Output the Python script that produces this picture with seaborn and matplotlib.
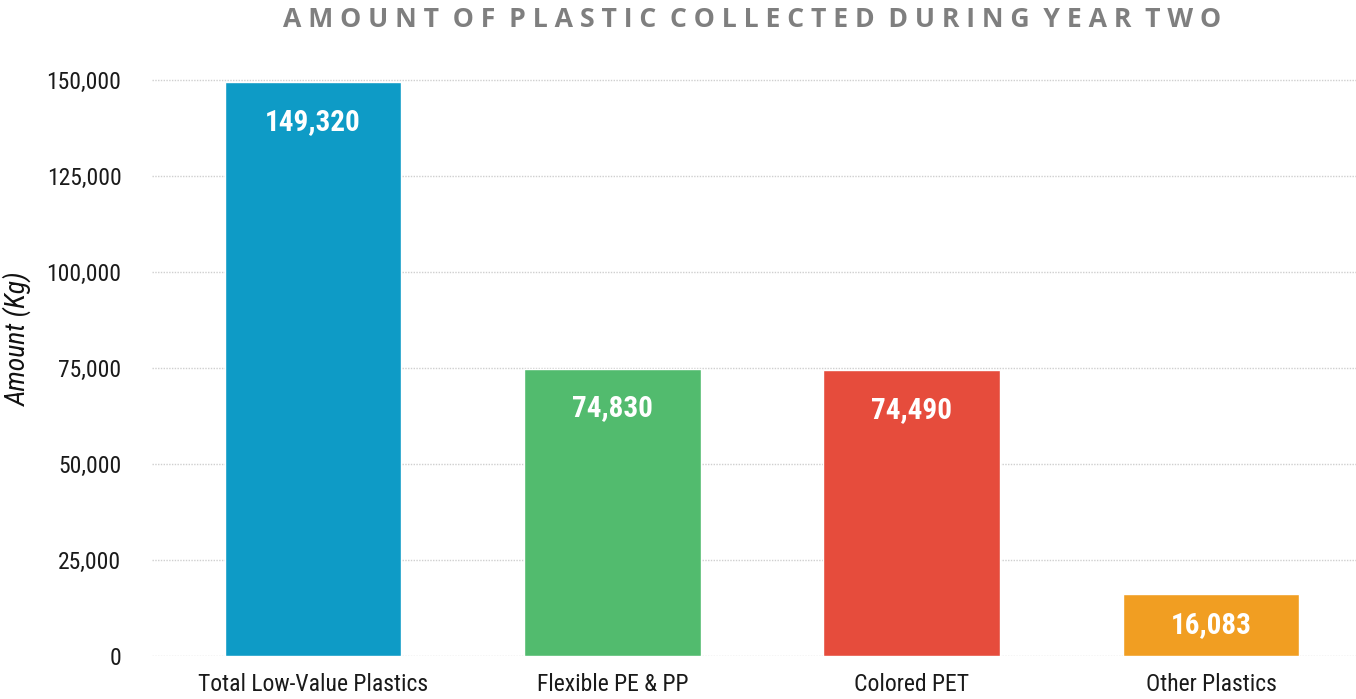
import matplotlib
matplotlib.use("Agg")
import matplotlib.pyplot as plt
import matplotlib.ticker as mticker
import seaborn as sns
import pandas as pd

# data
categories = ["Total Low-Value Plastics", "Flexible PE & PP", "Colored PET", "Other Plastics"]
amounts = [149320, 74830, 74490, 16083]
bar_colors = ["#0e9bc6", "#52bb6e", "#e64c3c", "#f19e22"]
title = "AMOUNT OF PLASTIC COLLECTED DURING YEAR TWO"

sns.set_theme(style="white")
plt.rcParams["font.family"] = ["Roboto Condensed", "Liberation Sans Narrow", "Roboto", "DejaVu Sans"]

df = pd.DataFrame({"category": categories, "amount": amounts})

fig = plt.figure(figsize=(13.56, 6.99), dpi=100)
ax = fig.add_axes([0.1121, 0.0615, 0.8879, 0.8326])

sns.barplot(data=df, x="category", y="amount", hue="category",
            palette=bar_colors, width=0.59, saturation=1, legend=False, ax=ax)

ax.set_ylim(0, 151500)
ax.set_xlim(-0.538, 3.484)
ax.yaxis.set_major_locator(mticker.MultipleLocator(25000))
ax.yaxis.set_major_formatter(mticker.FuncFormatter(lambda v, p: f"{int(v):,}"))
ax.grid(axis="y", linestyle=(0, (1, 1)), color="#cfcfcf", linewidth=1)
ax.set_axisbelow(True)
sns.despine(ax=ax, left=True, bottom=True)
ax.tick_params(axis="both", length=0, labelsize=17, colors="#1a1a1a")
ax.tick_params(axis="y", pad=22)
ax.tick_params(axis="x", pad=12)

ax.set_xlabel("")
ax.set_ylabel("Amount (Kg)", fontsize=20, fontstyle="italic", fontweight="normal",
              color="#111111")
ax.yaxis.set_label_coords(-0.0997, 0.546)

# value labels inside the bars
for i, v in enumerate(amounts):
    ypos = max(v - 10400, v / 2)
    ax.text(i, ypos, f"{v:,}", ha="center", va="center", color="white",
            fontsize=21, fontweight="bold")

spaced = "  ".join(" ".join(w) for w in title.split(" "))
fig.text(0.5545, 0.972, spaced, ha="center", va="center", color="#7f7f7f",
         fontsize=19.2, fontweight="bold", family=["Open Sans", "DejaVu Sans"])

fig.savefig("out.png", dpi=100)
